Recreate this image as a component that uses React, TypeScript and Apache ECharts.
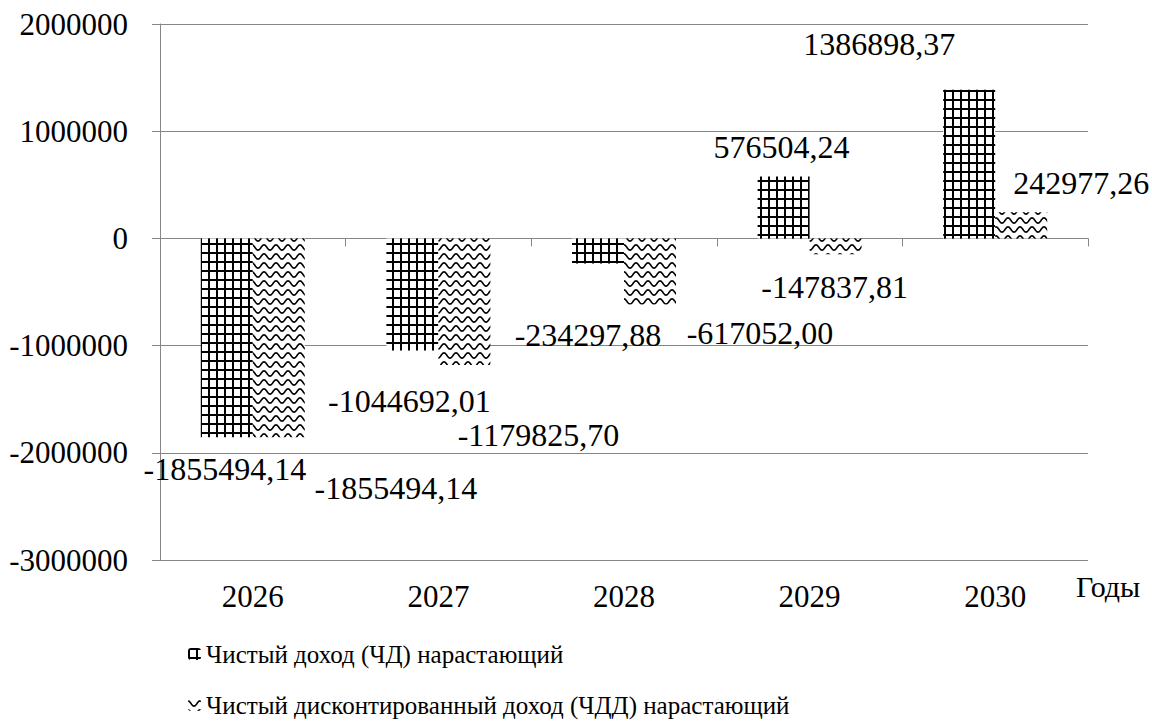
import React, { useEffect, useRef } from "react";
import * as echarts from "echarts";

// ---- data ----
const years = ["2026", "2027", "2028", "2029", "2030"];
const chdValues = [-1855494.14, -1044692.01, -234297.88, 576504.24, 1386898.37];
const chddValues = [-1855494.14, -1179825.7, -617052.0, -147837.81, 242977.26];
const seriesNames = [
  "Чистый доход (ЧД) нарастающий",
  "Чистый дисконтированный доход (ЧДД) нарастающий",
];
const yTicks = { min: -3000000, max: 2000000, interval: 1000000 };
const xAxisTitle = "Годы";

// ---- layout (label shifts from the bar end, in px) ----
const chdLabelShift = [[-2, 16], [-3, 35], [-10, 55], [-2, -14], [-90, -30]];
const chddLabelShift = [[117, 35], [74, 54], [110, 12], [-1, 17], [60, -13]];

const FONT = "'Liberation Serif', 'Times New Roman', serif";

function makeGridPattern(): HTMLCanvasElement {
  const c = document.createElement("canvas");
  c.width = 8;
  c.height = 9;
  const g = c.getContext("2d")!;
  g.fillStyle = "#ffffff";
  g.fillRect(0, 0, 8, 9);
  g.fillStyle = "#000000";
  g.fillRect(0, 0, 2, 9);
  g.fillRect(0, 0, 8, 2);
  return c;
}

function makeWavePattern(): HTMLCanvasElement {
  const c = document.createElement("canvas");
  c.width = 12;
  c.height = 9;
  const g = c.getContext("2d")!;
  g.fillStyle = "#ffffff";
  g.fillRect(0, 0, 12, 9);
  g.strokeStyle = "#000000";
  g.lineWidth = 1.6;
  g.beginPath();
  for (let x = -1; x <= 13; x += 0.5) {
    const y = 4.5 - 2.6 * Math.cos((2 * Math.PI * x) / 12);
    if (x === -1) g.moveTo(x, y);
    else g.lineTo(x, y);
  }
  g.stroke();
  return c;
}

const fmt = (v: number) => v.toFixed(2).replace(".", ",");

export default function App() {
  const ref = useRef<HTMLDivElement>(null);

  useEffect(() => {
    if (!ref.current) return;
    const chart = echarts.init(ref.current, undefined, { renderer: "svg" });
    const gridPat = makeGridPattern();
    const wavePat = makeWavePattern();
    const gray = "#868686";

    const labelBase = {
      show: true,
      position: "outside",
      distance: 0,
      fontSize: 32,
      color: "#000",
      fontFamily: FONT,
      formatter: (p: any) => fmt(p.value),
    };

    chart.setOption({
      animation: false,
      textStyle: { fontFamily: FONT, color: "#000" },
      grid: {
        left: 160,
        right: 64,
        top: 24,
        bottom: 166,
        containLabel: false,
        outerBoundsMode: "none",
      },
      legend: {
        orient: "vertical",
        left: 183,
        top: 636,
        height: 110,
        itemWidth: 13,
        itemHeight: 12,
        itemGap: 25,
        textStyle: { fontSize: 25, lineHeight: 26, color: "#000", fontFamily: FONT },
        data: seriesNames,
      },
      xAxis: [
        {
          type: "category",
          data: years,
          position: "bottom",
          axisLine: { show: false, onZero: false },
          axisTick: { show: false },
          axisLabel: { fontSize: 31, color: "#000", margin: 21, fontFamily: FONT },
        },
        {
          type: "category",
          data: years,
          position: "top",
          axisLine: { show: true, onZero: true, lineStyle: { color: gray, width: 1 } },
          axisTick: { show: true, inside: true, length: 8, lineStyle: { color: gray } },
          axisLabel: { show: false },
        },
      ],
      yAxis: {
        type: "value",
        min: yTicks.min,
        max: yTicks.max,
        interval: yTicks.interval,
        axisLine: { show: true, lineStyle: { color: gray, width: 1 } },
        axisTick: { show: true, length: 8, lineStyle: { color: gray } },
        axisLabel: {
          fontSize: 31,
          color: "#000",
          margin: 32,
          fontFamily: FONT,
          formatter: (v: number) => String(v),
        },
        splitLine: { show: true, lineStyle: { color: gray, width: 1 } },
      },
      graphic: [
        {
          type: "text",
          left: 1076,
          top: 571,
          style: { text: xAxisTitle, fontSize: 30, fontFamily: FONT, fill: "#000" },
        },
      ],
      series: [
        {
          name: seriesNames[0],
          type: "bar",
          xAxisIndex: 0,
          barWidth: 52,
          barGap: "0%",
          itemStyle: { color: { image: gridPat, repeat: "repeat" } },
          label: labelBase,
          data: chdValues.map((v, i) => ({ value: v, label: { offset: chdLabelShift[i] } })),
        },
        {
          name: seriesNames[1],
          type: "bar",
          xAxisIndex: 0,
          barWidth: 52,
          barGap: "0%",
          itemStyle: { color: { image: wavePat, repeat: "repeat" } },
          label: labelBase,
          data: chddValues.map((v, i) => ({ value: v, label: { offset: chddLabelShift[i] } })),
        },
      ],
    });

    return () => chart.dispose();
  }, []);

  return (
    <div
      ref={ref}
      style={{ position: "fixed", left: 0, top: 0, width: 1152, height: 726, background: "#fff" }}
    />
  );
}
